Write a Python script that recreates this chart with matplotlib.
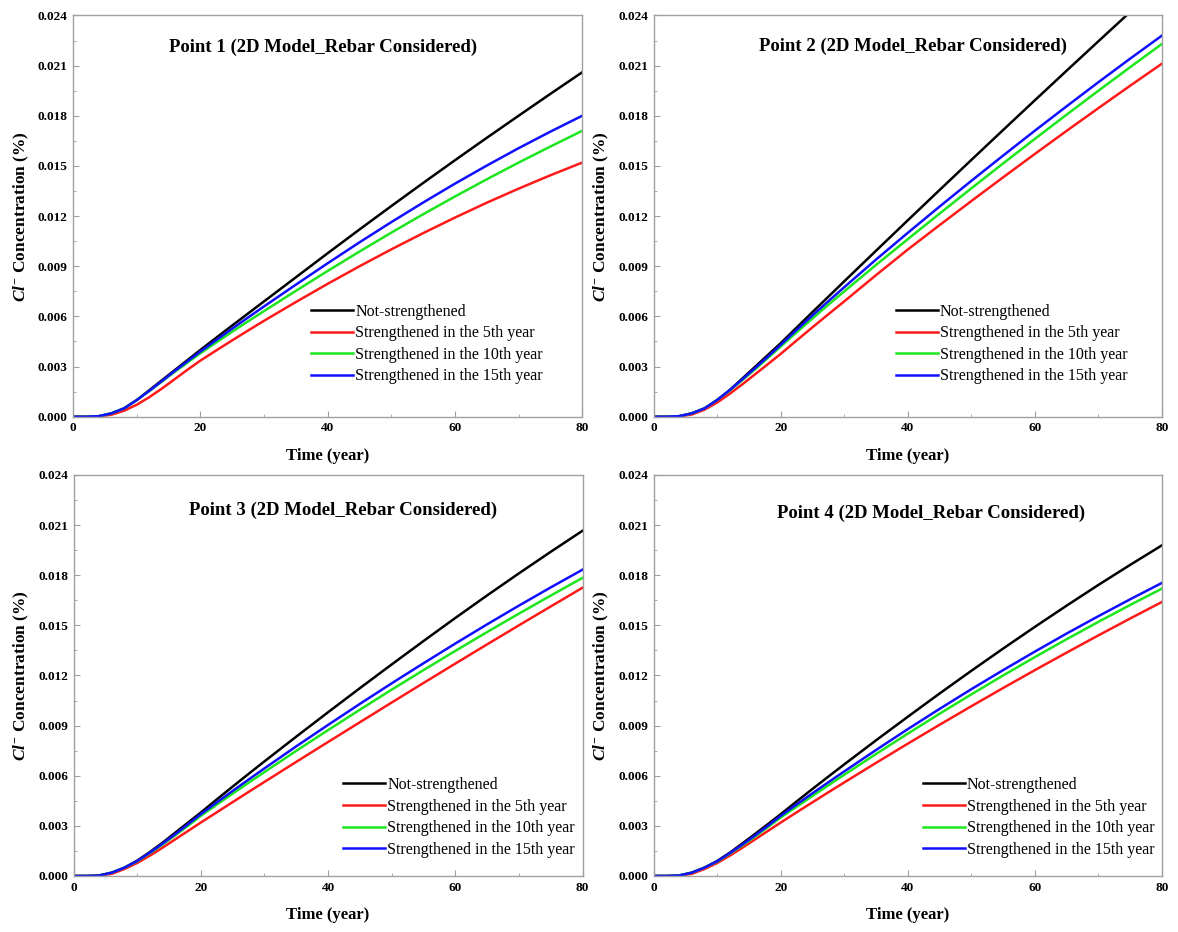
"""
Chloride concentration vs time at four points (2D model, rebar considered),
comparing the not-strengthened case with strengthening in year 5, 10 and 15.
"""

import matplotlib
matplotlib.use("Agg")
import matplotlib.pyplot as plt
from matplotlib.ticker import MultipleLocator, FormatStrFormatter

# ── Fonts ─────────────────────────────────────────────────────────────────────

plt.rcParams["font.family"] = ["Liberation Serif", "DejaVu Serif"]
plt.rcParams["mathtext.fontset"] = "custom"
plt.rcParams["mathtext.rm"] = "Liberation Serif:bold"
plt.rcParams["mathtext.it"] = "Liberation Serif:italic:bold"

# ── Data ──────────────────────────────────────────────────────────────────────

years = [0, 2, 4, 6, 8, 10, 12, 14, 16, 18, 20, 22.5, 25, 27.5, 30,
         35, 40, 45, 50, 55, 60, 65, 70, 75, 80]

# Point 1
p1_not = [0, 0, 0.00003, 0.0002, 0.0005, 0.00100, 0.00160, 0.00220, 0.00280, 0.00340, 0.00400, 0.00473, 0.00546,
          0.00618, 0.00690, 0.00834, 0.00978, 0.01120, 0.01260, 0.01398, 0.01534, 0.01668, 0.01800, 0.01931, 0.02060]
p1_y5  = [0, 0, 0.00002, 0.00012, 0.00036, 0.00072, 0.00118, 0.00170, 0.00226, 0.00282, 0.00336, 0.00397, 0.00457,
          0.00516, 0.00574, 0.00686, 0.00795, 0.00900, 0.01001, 0.01098, 0.01191, 0.01280, 0.01364, 0.01444, 0.01520]
p1_y10 = [0, 0, 0.00003, 0.0002, 0.0005, 0.00100, 0.00155, 0.00212, 0.00270, 0.00325, 0.00380, 0.00445, 0.00509,
          0.00571, 0.00632, 0.00753, 0.00872, 0.00988, 0.01101, 0.01211, 0.01317, 0.01420, 0.01520, 0.01616, 0.01710]
p1_y15 = [0, 0, 0.00003, 0.0002, 0.0005, 0.00100, 0.00156, 0.00215, 0.00275, 0.00333, 0.00390, 0.00459, 0.00527,
          0.00594, 0.00660, 0.00790, 0.00918, 0.01043, 0.01164, 0.01281, 0.01394, 0.01502, 0.01606, 0.01705, 0.01800]

# Point 2
p2_not = [0, 0, 0.00003, 0.0002, 0.0005, 0.00100, 0.00160, 0.00230, 0.00300, 0.00370, 0.00440, 0.00533, 0.00626,
          0.00718, 0.00810, 0.00993, 0.01175, 0.01356, 0.01536, 0.01715, 0.01893, 0.02070, 0.02246, 0.02421, 0.02595]
p2_y5  = [0, 0, 0.00002, 0.00013, 0.00042, 0.00085, 0.00138, 0.00195, 0.00255, 0.00315, 0.00376, 0.00456, 0.00535,
          0.00613, 0.00690, 0.00847, 0.01000, 0.01146, 0.01290, 0.01432, 0.01572, 0.01710, 0.01846, 0.01980, 0.02112]
p2_y10 = [0, 0, 0.00003, 0.0002, 0.0005, 0.00100, 0.00158, 0.00220, 0.00285, 0.00352, 0.00420, 0.00505, 0.00588,
          0.00670, 0.00750, 0.00908, 0.01062, 0.01215, 0.01366, 0.01515, 0.01662, 0.01807, 0.01950, 0.02091, 0.02230]
p2_y15 = [0, 0, 0.00003, 0.0002, 0.0005, 0.00100, 0.00160, 0.00225, 0.00292, 0.00360, 0.00430, 0.00519, 0.00606,
          0.00691, 0.00775, 0.00940, 0.01100, 0.01257, 0.01411, 0.01562, 0.01711, 0.01857, 0.02001, 0.02142, 0.02280]

# Point 3
p3_not = [0, 0, 0.00003, 0.0002, 0.0005, 0.00092, 0.00144, 0.00200, 0.00260, 0.00320, 0.00380, 0.00458, 0.00535,
          0.00611, 0.00686, 0.00834, 0.00980, 0.01124, 0.01266, 0.01406, 0.01544, 0.01679, 0.01811, 0.01940, 0.02066]
p3_y5  = [0, 0, 0.00002, 0.00013, 0.00042, 0.00078, 0.00122, 0.00170, 0.00220, 0.00270, 0.00320, 0.00381, 0.00442,
          0.00503, 0.00563, 0.00683, 0.00802, 0.00920, 0.01038, 0.01155, 0.01271, 0.01386, 0.01500, 0.01613, 0.01725]
p3_y10 = [0, 0, 0.00003, 0.0002, 0.0005, 0.00088, 0.00137, 0.00189, 0.00244, 0.00301, 0.00360, 0.00427, 0.00493,
          0.00558, 0.00622, 0.00749, 0.00873, 0.00995, 0.01115, 0.01232, 0.01347, 0.01460, 0.01570, 0.01678, 0.01784]
p3_y15 = [0, 0, 0.00003, 0.0002, 0.0005, 0.00090, 0.00140, 0.00194, 0.00251, 0.00310, 0.00370, 0.00440, 0.00509,
          0.00577, 0.00644, 0.00776, 0.00904, 0.01030, 0.01153, 0.01273, 0.01391, 0.01506, 0.01618, 0.01727, 0.01833]

# Point 4
p4_not = [0, 0, 0.00003, 0.0002, 0.0005, 0.00090, 0.00140, 0.00196, 0.00253, 0.00311, 0.00370, 0.00446, 0.00521,
          0.00595, 0.00668, 0.00812, 0.00953, 0.01092, 0.01228, 0.01361, 0.01491, 0.01618, 0.01742, 0.01862, 0.01979]
p4_y5  = [0, 0, 0.00002, 0.00013, 0.00042, 0.00078, 0.00122, 0.00170, 0.00220, 0.00270, 0.00320, 0.00381, 0.00441,
          0.00501, 0.00560, 0.00677, 0.00792, 0.00905, 0.01016, 0.01125, 0.01232, 0.01337, 0.01440, 0.01541, 0.01640]
p4_y10 = [0, 0, 0.00003, 0.0002, 0.0005, 0.00086, 0.00134, 0.00184, 0.00237, 0.00293, 0.00350, 0.00415, 0.00479,
          0.00543, 0.00606, 0.00730, 0.00852, 0.00971, 0.01087, 0.01200, 0.01310, 0.01417, 0.01521, 0.01622, 0.01720]
p4_y15 = [0, 0, 0.00003, 0.0002, 0.0005, 0.00088, 0.00137, 0.00189, 0.00244, 0.00301, 0.00360, 0.00428, 0.00495,
          0.00561, 0.00626, 0.00754, 0.00879, 0.01000, 0.01118, 0.01232, 0.01343, 0.01451, 0.01555, 0.01656, 0.01754]

SERIES_LABELS = ["Not-strengthened",
                 "Strengthened in the 5th year",
                 "Strengthened in the 10th year",
                 "Strengthened in the 15th year"]
SERIES_COLORS = ["#000000", "#ff1a1a", "#1ee61e", "#1010ff"]

panel_titles = ["Point 1 (2D Model_Rebar Considered)",
                "Point 2 (2D Model_Rebar Considered)",
                "Point 3 (2D Model_Rebar Considered)",
                "Point 4 (2D Model_Rebar Considered)"]

panel_data = [
    [p1_not, p1_y5, p1_y10, p1_y15],
    [p2_not, p2_y5, p2_y10, p2_y15],
    [p3_not, p3_y5, p3_y10, p3_y15],
    [p4_not, p4_y5, p4_y10, p4_y15],
]

# ── Layout (figure fractions) ─────────────────────────────────────────────────

AX_RECTS = [
    [0.0622, 0.5529, 0.4320, 0.4305],
    [0.5549, 0.5529, 0.4315, 0.4305],
    [0.0625, 0.0601, 0.4320, 0.4303],
    [0.5549, 0.0601, 0.4315, 0.4303],
]
TITLE_POS  = [(0.49, 0.92), (0.51, 0.922), (0.53, 0.912), (0.545, 0.905)]
LEGEND_POS = [(0.468, 0.282), (0.477, 0.282), (0.530, 0.247), (0.530, 0.247)]

SPINE_GREY = "#a0a0a0"

# ── Plot ──────────────────────────────────────────────────────────────────────

fig = plt.figure(figsize=(11.78, 9.32), dpi=100)

for i in range(4):
    ax = fig.add_axes(AX_RECTS[i])
    for k in range(4):
        ax.plot(years, panel_data[i][k], color=SERIES_COLORS[k], lw=1.8,
                label=SERIES_LABELS[k])

    ax.set_xlim(0, 80)
    ax.set_ylim(0, 0.024)
    ax.xaxis.set_major_locator(MultipleLocator(20))
    ax.xaxis.set_minor_locator(MultipleLocator(10))
    ax.yaxis.set_major_locator(MultipleLocator(0.003))
    ax.yaxis.set_minor_locator(MultipleLocator(0.0015))
    ax.yaxis.set_major_formatter(FormatStrFormatter("%.3f"))
    ax.tick_params(which="both", direction="in", color=SPINE_GREY,
                   labelsize=9.5, pad=4)
    ax.tick_params(which="major", length=4)
    ax.tick_params(which="minor", length=2.5)
    for lab in ax.get_xticklabels() + ax.get_yticklabels():
        lab.set_fontweight("bold")
    for sp in ax.spines.values():
        sp.set_color(SPINE_GREY)
        sp.set_linewidth(1.0)

    ax.set_xlabel("Time (year)", fontsize=12, fontweight="bold", labelpad=10)
    ax.set_ylabel(r"$\mathit{Cl}^{-}$ Concentration (%)", fontsize=12.5,
                  fontweight="bold", labelpad=5)

    ax.text(TITLE_POS[i][0], TITLE_POS[i][1], panel_titles[i],
            transform=ax.transAxes, ha="center", va="center",
            fontsize=13.5, fontweight="bold")

    ax.legend(loc="upper left", bbox_to_anchor=LEGEND_POS[i], frameon=False,
              fontsize=11.5, handlelength=2.6, handletextpad=0.15,
              labelspacing=0.35, borderpad=0, borderaxespad=0)

fig.savefig("out.png", dpi=100)
plt.close(fig)
